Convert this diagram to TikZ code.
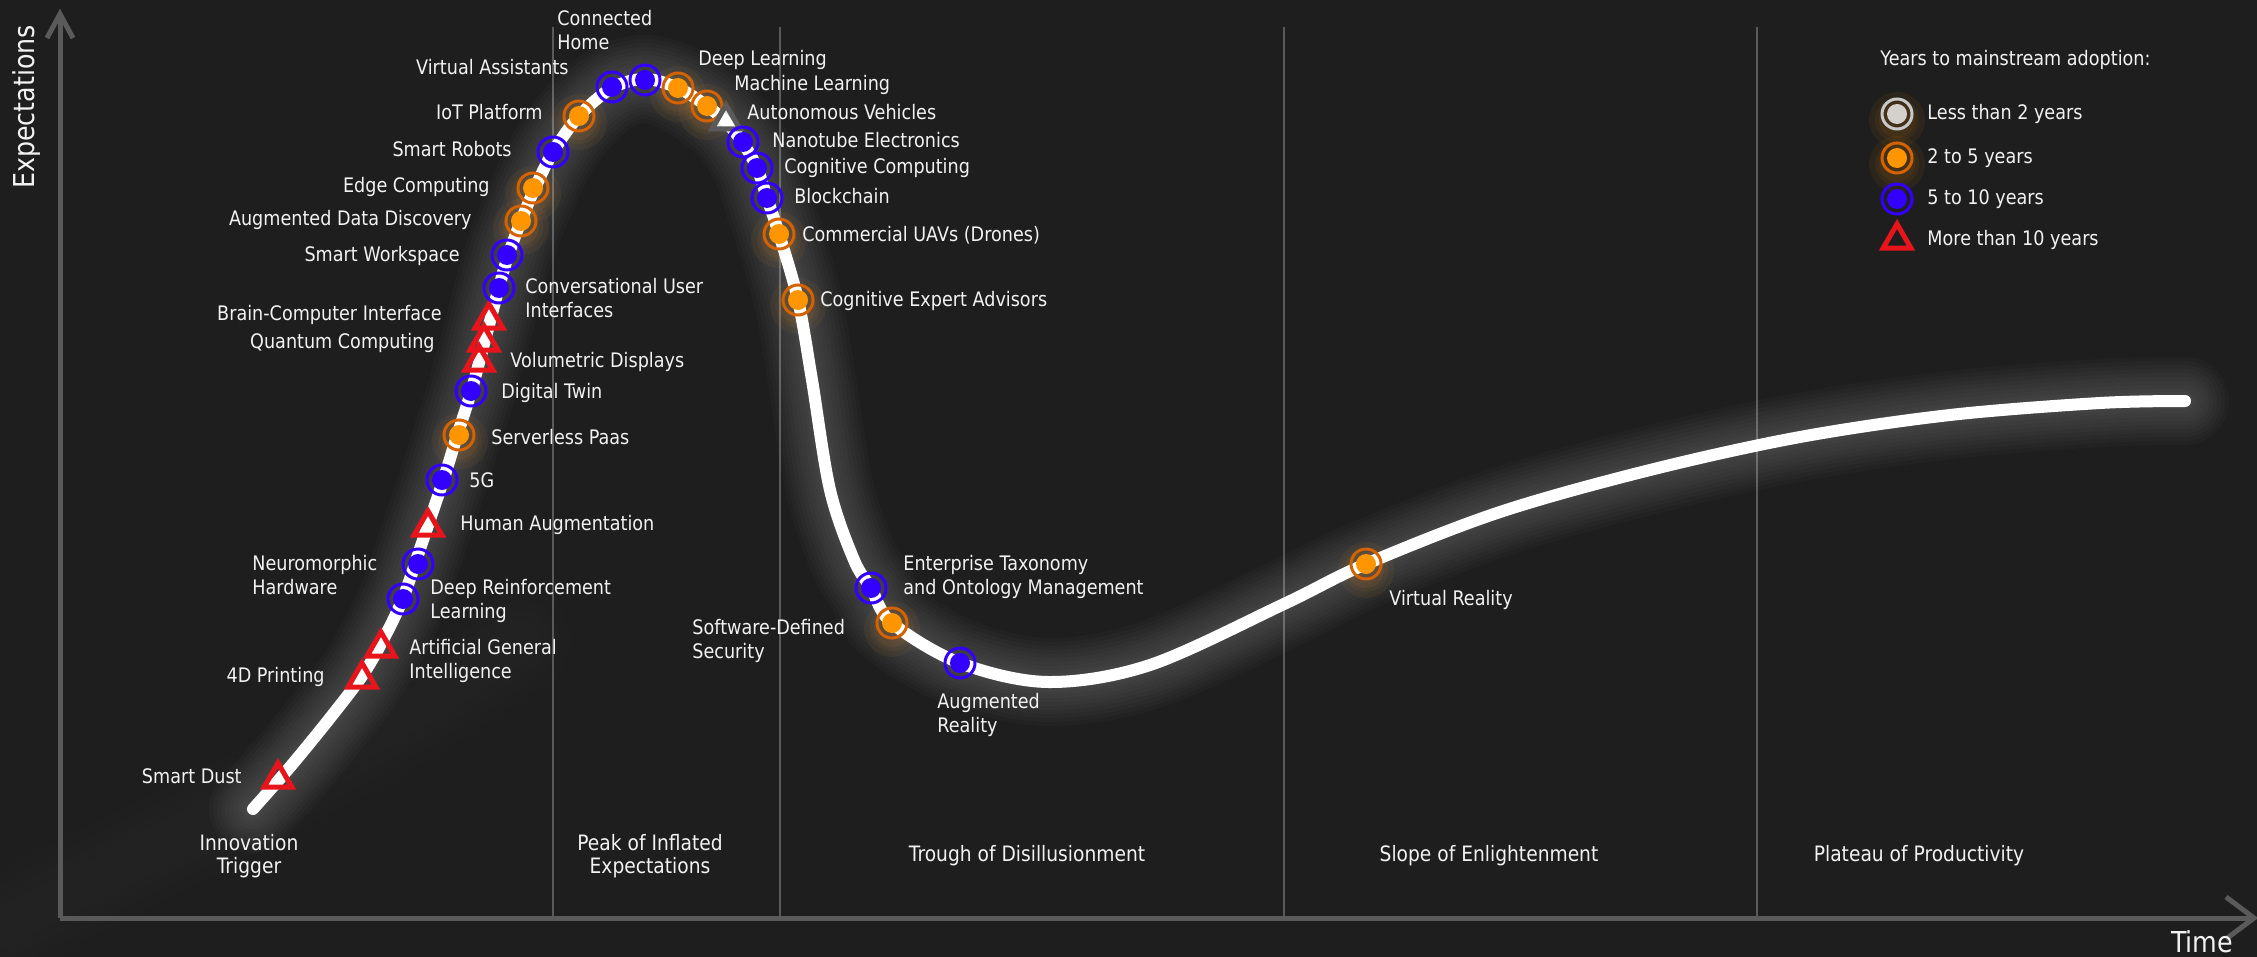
\documentclass[tikz,border=0pt]{standalone}
\usepackage{fontspec}
\setmainfont{DejaVu Sans}[FakeStretch=0.88]
\usetikzlibrary{shapes.geometric}
\definecolor{bgc}{HTML}{1E1E1E}
\definecolor{axisgray}{HTML}{5A5A5A}
\definecolor{txt}{HTML}{F2F2F2}
\definecolor{bluem}{HTML}{3300FF}
\definecolor{orfill}{HTML}{FF9500}
\definecolor{orring}{HTML}{D46200}
\definecolor{redm}{HTML}{E8141C}
\definecolor{lgring}{HTML}{C8C8C8}
\definecolor{lgfill}{HTML}{D4D0CC}
\def\hypepath{plot[smooth, tension=0.55] coordinates {(253,809) (290,767) (330,718) (362,676) (383,640) (403,598) (423,540) (443,481) (457,436) (471,392) (484,344) (498,291) (508,256) (521,221) (535,188) (553,152) (579,116) (612,88) (645,79) (678,88) (707,106) (727,123) (743,143) (757,168) (767,198) (779,234) (798,300) (812,380) (830,490) (854,560) (871,588) (892,623) (960,663) (1048,682) (1150,665) (1284,604) (1366,564) (1500,512) (1650,470) (1800,437) (1950,415) (2100,403) (2185,401)}}
\begin{document}
\begin{tikzpicture}[x=0.5pt,y=-0.5pt,
  lbl/.style={text=txt, font=\fontsize{10pt}{12pt}\selectfont, inner sep=0pt},
  lblL/.style={lbl, anchor=west, align=left},
  lblR/.style={lbl, anchor=east, align=right},
  phase/.style={text=txt, font=\fontsize{10.6pt}{11.5pt}\selectfont, align=center, inner sep=0pt},
  axlbl/.style={text=txt, font=\fontsize{14.4pt}{16pt}\selectfont, inner sep=0pt},
  bluemk/.style={circle, draw=bluem, line width=1.5pt, minimum size=15pt, inner sep=0pt,
    path picture={\fill[bluem] (path picture bounding box.center) circle[radius=5pt];}},
  ormk/.style={circle, draw=orring, line width=1.5pt, minimum size=15pt, inner sep=0pt,
    path picture={\fill[orfill] (path picture bounding box.center) circle[radius=5pt];}},
  greymk/.style={circle, draw=lgring, line width=1.5pt, minimum size=15pt, inner sep=0pt,
    path picture={\fill[lgfill] (path picture bounding box.center) circle[radius=5pt];}},
  trimk/.style={regular polygon, regular polygon sides=3, draw=redm, line width=2.5pt,
    minimum size=16pt, inner sep=0pt},
  ghosttri/.style={regular polygon, regular polygon sides=3, draw=axisgray, line width=2.5pt,
    minimum size=16pt, inner sep=0pt, fill=white, fill opacity=0.85},
  divider/.style={axisgray, line width=1pt},
  axisline/.style={axisgray, line width=2.5pt},
  halo/.style={orfill, opacity=0.06}
]
\fill[bgc] (0,0) rectangle (2257,957);
\useasboundingbox (0,0) rectangle (2257,957);

% faint background swooshes
\foreach \w in {50,40,30,20}{
  \draw[white, opacity=0.006, line width=\w pt, line cap=round] (0,930) .. controls (200,820) and (350,760) .. (520,640);
  \draw[white, opacity=0.005, line width=\w pt, line cap=round] (1410,245) .. controls (1800,300) and (2100,600) .. (2257,930);
}

% phase dividers
\foreach \xx/\nm in {553/dA,780/dB,1284/dC,1757/dD}{
  \coordinate (\nm t) at (\xx,27);
  \coordinate (\nm b) at (\xx,918);
  \draw[divider] (\nm t) -- (\nm b);
}

% axes
\coordinate (orig) at (60,918);
\coordinate (ytip) at (60,14);
\coordinate (xtip) at (2254,918);
\coordinate (ya) at (47,38); \coordinate (yb) at (73,38);
\coordinate (xa) at (2226,897); \coordinate (xb) at (2226,939);
\draw[axisline] (orig) -- (ytip);
\draw[axisline] (orig) -- (xtip);
\draw[axisline] (ya) -- (ytip) -- (yb);
\draw[axisline] (xa) -- (xtip) -- (xb);

% orange halos
\foreach \hx/\hy in {579/116,533/188,521/221,460/435,678/88,707/106,779/234,798/300,892/623,1366/564,1897/158,1897/114}{
  \fill[halo] (\hx,\hy+6) circle[radius=14pt];
  \fill[halo] (\hx,\hy+6) circle[radius=11pt];
  \fill[halo] (\hx,\hy+6) circle[radius=9pt];
}

% curve with soft glow
\foreach \w in {44,40,36,32,28,24,20,16,12,9}{
  \draw[white, opacity=0.018, line width=\w pt, line cap=round, line join=round] \hypepath;
}
\draw[white, line width=6pt, line cap=round, line join=round] \hypepath;

% markers
\node[trimk] (mSD) at (278,779) {};
\node[trimk] (m4D) at (362,679) {};
\node[trimk] (mAGI) at (381,648) {};
\node[bluemk] (mDRL) at (403,599) {};
\node[bluemk] (mNH) at (418,564) {};
\node[trimk] (mHA) at (428,527) {};
\node[bluemk] (m5G) at (442,480) {};
\node[ormk] (mSP) at (459,435) {};
\node[bluemk] (mDT) at (471,391) {};
\node[trimk] (mVD) at (479,362) {};
\node[trimk] (mQC) at (484,342) {};
\node[trimk] (mBCI) at (489,320) {};
\node[bluemk] (mCUI) at (499,288) {};
\node[bluemk] (mSW) at (507,255) {};
\node[ormk] (mADD) at (521,221) {};
\node[ormk] (mEC) at (533,188) {};
\node[bluemk] (mSR) at (553,152) {};
\node[ormk] (mIoT) at (579,116) {};
\node[bluemk] (mVA) at (612,87) {};
\node[bluemk] (mCH) at (645,80) {};
\node[ormk] (mDL) at (678,88) {};
\node[ormk] (mML) at (707,106) {};
\node[ghosttri] (mAV) at (726,121) {};
\node[bluemk] (mNE) at (743,142) {};
\node[bluemk] (mCC) at (757,168) {};
\node[bluemk] (mBC) at (767,198) {};
\node[ormk] (mUAV) at (779,234) {};
\node[ormk] (mCEA) at (798,300) {};
\node[bluemk] (mETO) at (871,588) {};
\node[ormk] (mSDS) at (892,623) {};
\node[bluemk] (mAR) at (960,663) {};
\node[ormk] (mVR) at (1366,564) {};

% labels
\node[lblR] (tSD) at (242,776) {Smart Dust};
\node[lblR] (t4D) at (325,677) {4D Printing};
\node[lblL] (tAGI) at (409,661) {Artificial General\\Intelligence};
\node[lblL] (tDRL) at (430,601) {Deep Reinforcement\\Learning};
\node[lblL] (tNH) at (252,575) {Neuromorphic\\Hardware};
\node[lblL] (tHA) at (460,525) {Human Augmentation};
\node[lblL] (t5G) at (469,480) {5G};
\node[lblL] (tSP) at (491,437) {Serverless Paas};
\node[lblL] (tDT) at (501,393) {Digital Twin};
\node[lblL] (tVD) at (510,362) {Volumetric Displays};
\node[lblR] (tQC) at (435,343) {Quantum Computing};
\node[lblR] (tBCI) at (442,315) {Brain-Computer Interface};
\node[lblL] (tCUI) at (525,298) {Conversational User\\Interfaces};
\node[lblR] (tSW) at (460,256) {Smart Workspace};
\node[lblR] (tADD) at (472,220) {Augmented Data Discovery};
\node[lblR] (tEC) at (490,187) {Edge Computing};
\node[lblR] (tSR) at (512,149) {Smart Robots};
\node[lblR] (tIoT) at (543,112) {IoT Platform};
\node[lblR] (tVA) at (569,67) {Virtual Assistants};
\node[lblL] (tCH) at (557,30) {Connected\\Home};
\node[lblL] (tDL) at (698,60) {Deep Learning};
\node[lblL] (tML) at (734,85) {Machine Learning};
\node[lblL] (tAV) at (747,112) {Autonomous Vehicles};
\node[lblL] (tNE) at (772,140) {Nanotube Electronics};
\node[lblL] (tCC) at (784,168) {Cognitive Computing};
\node[lblL] (tBC) at (794,196) {Blockchain};
\node[lblL] (tUAV) at (802,235) {Commercial UAVs (Drones)};
\node[lblL] (tCEA) at (820,301) {Cognitive Expert Advisors};
\node[lblL] (tETO) at (903,577) {Enterprise Taxonomy\\and Ontology Management};
\node[lblL] (tSDS) at (692,641) {Software-Defined\\Security};
\node[lblL] (tAR) at (937,715) {Augmented\\Reality};
\node[lblL] (tVR) at (1389,600) {Virtual Reality};

% phases
\node[phase] (pIT) at (249,856) {Innovation\\Trigger};
\node[phase] (pPK) at (650,856) {Peak of Inflated\\Expectations};
\node[phase] (pTR) at (1027,856) {Trough of Disillusionment};
\node[phase] (pSL) at (1489,856) {Slope of Enlightenment};
\node[phase] (pPL) at (1919,856) {Plateau of Productivity};

% axis labels
\node[axlbl, rotate=90] (aE) at (27,107) {Expectations};
\node[axlbl] (aT) at (2202,942) {Time};

% legend
\node[lblL] (legT) at (1880,60) {Years to mainstream adoption:};
\node[greymk] (lg1) at (1897,114) {};
\node[ormk] (lg2) at (1897,158) {};
\node[bluemk] (lg3) at (1897,199) {};
\node[trimk] (lg4) at (1897,240) {};
\node[lblL] (lt1) at (1927,114) {Less than 2 years};
\node[lblL] (lt2) at (1927,158) {2 to 5 years};
\node[lblL] (lt3) at (1927,199) {5 to 10 years};
\node[lblL] (lt4) at (1927,240) {More than 10 years};
\end{tikzpicture}
\end{document}
